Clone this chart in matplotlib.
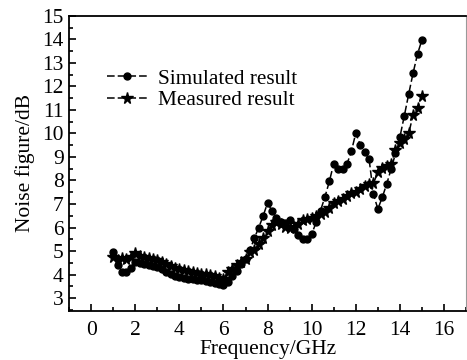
import matplotlib
matplotlib.use("Agg")
import matplotlib.pyplot as plt
from matplotlib.ticker import MultipleLocator

plt.rcParams['font.family'] = ['Liberation Serif', 'DejaVu Serif']
plt.rcParams['mathtext.fontset'] = 'stix'

# === data ===
freq = [1.0, 1.2, 1.4, 1.6, 1.8, 2.0, 2.2, 2.4, 2.6, 2.8,
        3.0, 3.2, 3.4, 3.6, 3.8, 4.0, 4.2, 4.4, 4.6, 4.8,
        5.0, 5.2, 5.4, 5.6, 5.8, 6.0, 6.2, 6.4, 6.6, 6.8,
        7.0, 7.2, 7.4, 7.6, 7.8, 8.0, 8.2, 8.4, 8.6, 8.8,
        9.0, 9.2, 9.4, 9.6, 9.8, 10.0, 10.2, 10.4, 10.6, 10.8,
        11.0, 11.2, 11.4, 11.6, 11.8, 12.0, 12.2, 12.4, 12.6, 12.8,
        13.0, 13.2, 13.4, 13.6, 13.8, 14.0, 14.2, 14.4, 14.6, 14.8,
        15.0]

simulated = [4.96, 4.42, 4.13, 4.13, 4.30, 4.55, 4.48, 4.44, 4.40, 4.37,
             4.33, 4.22, 4.12, 4.03, 3.96, 3.90, 3.86, 3.83, 3.80, 3.78,
             3.75, 3.72, 3.68, 3.64, 3.60, 3.55, 3.70, 3.95, 4.15, 4.45,
             4.65, 5.05, 5.55, 6.00, 6.50, 7.05, 6.70, 6.42, 6.25, 6.20,
             6.33, 5.94, 5.67, 5.50, 5.50, 5.72, 6.22, 6.72, 7.30, 7.96,
             8.72, 8.48, 8.48, 8.70, 9.24, 10.02, 9.52, 9.20, 8.93, 7.42,
             6.79, 7.28, 7.85, 8.48, 9.15, 9.85, 10.75, 11.68, 12.58, 13.38,
             13.98]

measured = [4.73, 4.62, 4.70, 4.68, 4.75, 4.92, 4.80, 4.76, 4.71, 4.66,
            4.62, 4.52, 4.45, 4.38, 4.30, 4.22, 4.18, 4.14, 4.10, 4.07,
            4.04, 4.01, 3.97, 3.92, 3.87, 3.82, 4.12, 4.22, 4.40, 4.55,
            4.65, 4.95, 5.05, 5.30, 5.55, 5.85, 6.12, 6.22, 6.15, 6.02,
            6.00, 6.02, 6.15, 6.30, 6.38, 6.42, 6.50, 6.58, 6.65, 6.85,
            7.05, 7.12, 7.22, 7.35, 7.45, 7.52, 7.65, 7.75, 7.85, 7.88,
            8.35, 8.55, 8.60, 8.72, 9.30, 9.60, 9.75, 10.00, 10.80, 11.10,
            11.60]

# === plot ===
fig = plt.figure(figsize=(4.67, 3.6), dpi=100)
ax = fig.add_axes([0.148, 0.136, 0.850, 0.820])

ax.plot(freq, simulated, color='black', linestyle=(0, (5, 2)), linewidth=1.1,
        marker='o', markersize=5, label='Simulated result')
ax.plot(freq, measured, color='black', linestyle=(0, (5, 2)), linewidth=1.1,
        marker='*', markersize=8.5, label='Measured result')

ax.set_xlim(-1, 17)
ax.set_ylim(2.45, 15)
ax.xaxis.set_major_locator(MultipleLocator(2))
ax.xaxis.set_minor_locator(MultipleLocator(1))
ax.yaxis.set_minor_locator(MultipleLocator(0.5))
ax.set_yticks(range(3, 16))
ax.tick_params(which='both', direction='in', top=False, right=False,
               labelsize=15.5, width=1.2)
ax.tick_params(which='major', length=5)
ax.tick_params(which='minor', length=3)
ax.tick_params(axis='x', pad=7)
ax.tick_params(axis='y', pad=4)

for side in ['left', 'bottom', 'top']:
    ax.spines[side].set_linewidth(1.3)
ax.spines['right'].set_color('#999999')

ax.set_xlabel('Frequency/GHz', fontsize=15.5, labelpad=0)
ax.set_ylabel('Noise figure/dB', fontsize=15.5, labelpad=5)

ax.legend(loc='upper left', bbox_to_anchor=(0.095, 0.82), frameon=False,
          fontsize=15.3, handlelength=1.9, handletextpad=0.5,
          labelspacing=0.08, borderaxespad=0, borderpad=0)

fig.savefig('out.png', dpi=100)
